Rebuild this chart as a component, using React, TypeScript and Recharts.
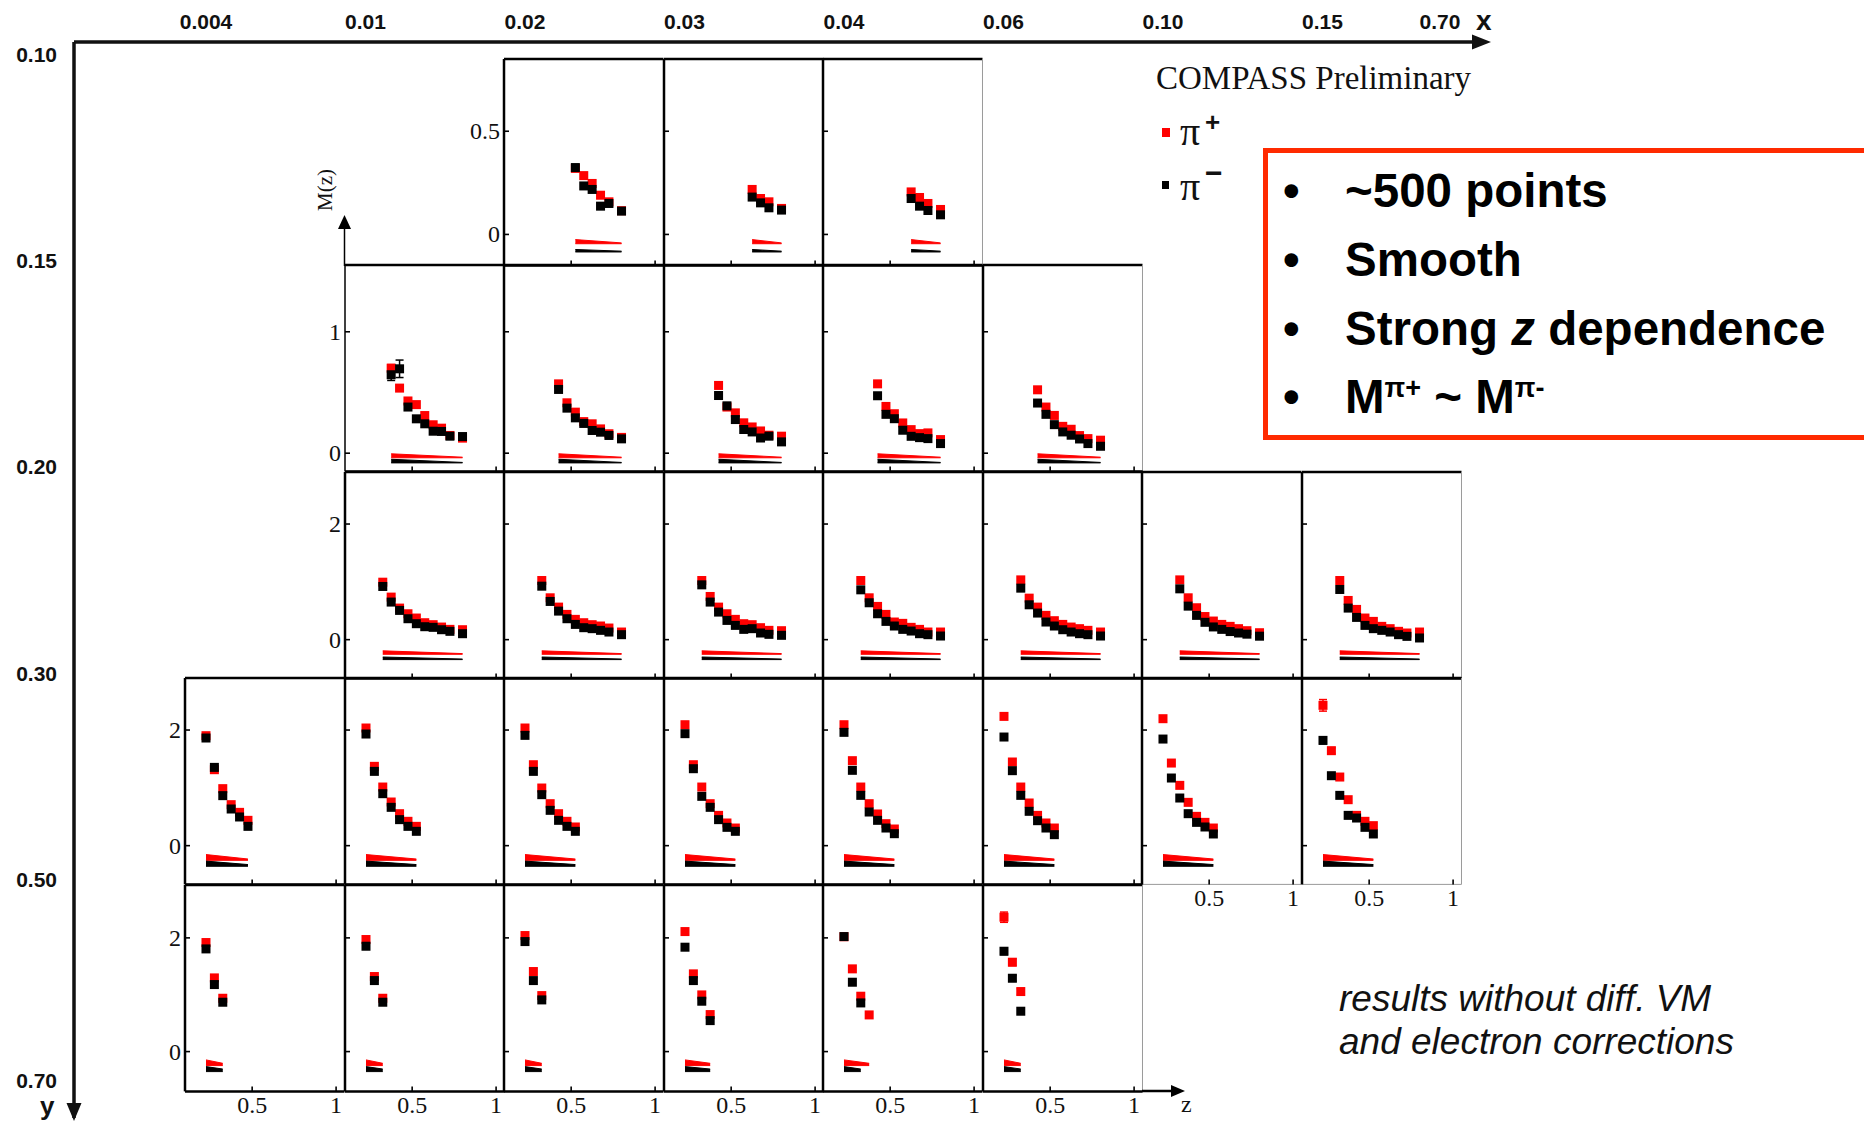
import React from 'react';
import { ComposedChart, Scatter, Area, XAxis, YAxis, ReferenceLine, ErrorBar } from 'recharts';

// mean z of each z bin
const Z_BINS = [0.225, 0.275, 0.325, 0.375, 0.425, 0.475, 0.525, 0.575, 0.625, 0.675, 0.725, 0.8];

// bin edges written along the two outer axes
const X_EDGES = ['0.004', '0.01', '0.02', '0.03', '0.04', '0.06', '0.10', '0.15', '0.70'];
const Y_EDGES = ['0.10', '0.15', '0.20', '0.30', '0.50', '0.70'];

// x bins present in each y row, and first z bin of every panel
const ROW_COLS = [
  [2, 3, 4],
  [1, 2, 3, 4, 5],
  [1, 2, 3, 4, 5, 6, 7],
  [0, 1, 2, 3, 4, 5, 6, 7],
  [0, 1, 2, 3, 4, 5],
];
const ROW_START = [
  [6, 8, 8],
  [3, 4, 4, 4, 4],
  [2, 2, 2, 2, 2, 2, 2],
  [0, 0, 0, 0, 0, 0, 0, 0],
  [0, 0, 0, 0, 0, 0],
];

const M_DOMAIN = [[-0.15, 0.85], [-0.15, 1.55], [-0.67, 2.9], [-0.67, 2.9], [-0.7, 2.93]];
const M_TICKS = [[0, 0.5], [0, 1], [0, 2], [0, 2], [0, 2]];
const Z_TICKS = [0.5, 1];

// pi+ multiplicities, one list per panel
const PIP_ROW0 = [
  [0.32, 0.285, 0.247, 0.19, 0.158, 0.115],
  [0.218, 0.174, 0.158, 0.126],
  [0.206, 0.179, 0.15, 0.121],
];
const PIP_ROW1 = [
  [0.7, 0.536, 0.43, 0.4, 0.31, 0.234, 0.206, 0.146, 0.124],
  [0.571, 0.415, 0.338, 0.26, 0.242, 0.2, 0.16, 0.13],
  [0.558, 0.38, 0.332, 0.25, 0.216, 0.183, 0.148, 0.14],
  [0.571, 0.385, 0.325, 0.249, 0.194, 0.161, 0.167, 0.112],
  [0.522, 0.38, 0.311, 0.221, 0.197, 0.145, 0.12, 0.107],
];
const PIP_ROW2 = [
  [0.994, 0.736, 0.546, 0.448, 0.374, 0.293, 0.259, 0.218, 0.178, 0.172],
  [1.023, 0.724, 0.563, 0.437, 0.351, 0.293, 0.259, 0.236, 0.201, 0.132],
  [1.023, 0.747, 0.563, 0.448, 0.351, 0.276, 0.259, 0.207, 0.161, 0.155],
  [1.023, 0.724, 0.575, 0.437, 0.305, 0.282, 0.213, 0.178, 0.132, 0.132],
  [1.034, 0.718, 0.563, 0.42, 0.328, 0.264, 0.218, 0.19, 0.161, 0.132],
  [1.034, 0.724, 0.552, 0.4, 0.322, 0.264, 0.23, 0.19, 0.155, 0.12],
  [1.023, 0.678, 0.523, 0.374, 0.316, 0.23, 0.19, 0.144, 0.115, 0.132],
];
const PIP_ROW3 = [
  [1.902, 1.314, 0.986, 0.709, 0.576, 0.438],
  [2.035, 1.372, 1.014, 0.755, 0.553, 0.421, 0.334],
  [2.035, 1.4, 0.997, 0.726, 0.553, 0.421, 0.323],
  [2.092, 1.4, 1.014, 0.726, 0.524, 0.392, 0.305],
  [2.092, 1.47, 1.014, 0.726, 0.548, 0.38, 0.288],
  [2.236, 1.447, 1.014, 0.738, 0.524, 0.392, 0.305],
  [2.196, 1.429, 1.043, 0.749, 0.507, 0.403, 0.305],
  [2.427, 1.643, 1.187, 0.795, 0.524, 0.421, 0.346],
];
const PIP_ROW4 = [
  [1.918, 1.296, 0.938],
  [1.971, 1.32, 0.938],
  [2.041, 1.408, 0.985],
  [2.111, 1.367, 0.997, 0.651],
  [2.02, 1.455, 0.974, 0.645],
  [2.364, 1.572, 1.056],
];

// pi- multiplicities
const PIM_ROW0 = [
  [0.324, 0.235, 0.218, 0.137, 0.15, 0.113],
  [0.181, 0.153, 0.129, 0.118],
  [0.174, 0.137, 0.116, 0.095],
];
const PIM_ROW1 = [
  [0.646, 0.695, 0.38, 0.283, 0.242, 0.181, 0.179, 0.14, 0.137],
  [0.525, 0.371, 0.291, 0.245, 0.187, 0.173, 0.146, 0.118],
  [0.475, 0.39, 0.277, 0.195, 0.175, 0.125, 0.14, 0.093],
  [0.473, 0.32, 0.284, 0.189, 0.139, 0.128, 0.12, 0.079],
  [0.413, 0.32, 0.235, 0.175, 0.148, 0.117, 0.079, 0.057],
];
const PIM_ROW2 = [
  [0.92, 0.65, 0.506, 0.362, 0.276, 0.224, 0.213, 0.172, 0.144, 0.103],
  [0.925, 0.661, 0.494, 0.362, 0.264, 0.207, 0.19, 0.161, 0.132, 0.086],
  [0.948, 0.65, 0.477, 0.333, 0.247, 0.178, 0.19, 0.115, 0.092, 0.075],
  [0.862, 0.638, 0.448, 0.316, 0.236, 0.178, 0.149, 0.103, 0.086, 0.063],
  [0.891, 0.603, 0.46, 0.305, 0.236, 0.172, 0.132, 0.103, 0.086, 0.063],
  [0.879, 0.58, 0.42, 0.3, 0.22, 0.178, 0.14, 0.115, 0.095, 0.06],
  [0.868, 0.546, 0.385, 0.247, 0.19, 0.161, 0.132, 0.086, 0.057, 0.029],
];
const PIM_ROW3 = [
  [1.862, 1.354, 0.865, 0.634, 0.496, 0.334],
  [1.931, 1.285, 0.899, 0.663, 0.45, 0.334, 0.248],
  [1.908, 1.285, 0.882, 0.611, 0.438, 0.334, 0.248],
  [1.937, 1.331, 0.853, 0.663, 0.45, 0.317, 0.248],
  [1.96, 1.303, 0.87, 0.582, 0.438, 0.305, 0.207],
  [1.879, 1.297, 0.87, 0.594, 0.432, 0.305, 0.19],
  [1.844, 1.17, 0.824, 0.553, 0.403, 0.323, 0.202],
  [1.821, 1.21, 0.87, 0.524, 0.478, 0.317, 0.202],
];
const PIM_ROW4 = [
  [1.806, 1.179, 0.868],
  [1.853, 1.249, 0.868],
  [1.935, 1.249, 0.909],
  [1.836, 1.249, 0.886, 0.545],
  [2.023, 1.22, 0.856],
  [1.765, 1.29, 0.71],
];

const PIP = [PIP_ROW0, PIP_ROW1, PIP_ROW2, PIP_ROW3, PIP_ROW4];
const PIM = [PIM_ROW0, PIM_ROW1, PIM_ROW2, PIM_ROW3, PIM_ROW4];

// statistical errors large enough to be seen (row-col)
const ERR_PIP: Record<string, number[]> = { '1-1': [0.03], '3-7': [0.1, 0.05, 0.04], '4-5': [0.09, 0.06, 0.05] };
const ERR_PIM: Record<string, number[]> = { '1-1': [0.047, 0.072], '3-7': [0.06], '4-4': [0.05], '4-5': [0.06, 0.05] };

// systematic bands per y row: base line, height at first and last z
const SYS_BASE_PIP = [-0.045, -0.038, -0.253, -0.254, -0.246];
const SYS_BASE_PIM = [-0.085, -0.08, -0.345, -0.357, -0.352];
const SYS_PIP_FIRST = [0.02, 0.033, 0.06, 0.1, 0.1];
const SYS_PIP_LAST = [0.004, 0.005, 0.012, 0.023, 0.04];
const SYS_PIM_FIRST = [0.012, 0.03, 0.045, 0.09, 0.088];
const SYS_PIM_LAST = [0.004, 0.004, 0.01, 0.03, 0.045];

const SERIF = '"Liberation Serif", "Times New Roman", serif';
const SANS = '"Liberation Sans", Arial, Helvetica, sans-serif';
const RED = '#ff0000';

// layout of the panel grid
const COL0 = 185;
const COL_W = 159.5;
const ROW0 = 59;
const ROW_H = 206.4;
const PAD_L = 44;
const PAD_R = 3;
const PAD_T = 3;
const PAD_B = 34;

function YTick(props: any) {
  const { x, y, payload, show } = props;
  return (
    <g>
      <line x1={x} y1={y} x2={x + 5} y2={y} stroke="#000" strokeWidth={1.6} />
      {show && (
        <text x={x - 4} y={y} textAnchor="end" dominantBaseline="central" fontFamily={SERIF} fontSize={24} fill="#111">
          {String(payload.value)}
        </text>
      )}
    </g>
  );
}

function XTick(props: any) {
  const { x, y, payload, show } = props;
  return (
    <g>
      <line x1={x} y1={y} x2={x} y2={y - 5} stroke="#000" strokeWidth={1.6} />
      {show && (
        <text x={x} y={y + 22} textAnchor="middle" fontFamily={SERIF} fontSize={24} fill="#111">
          {String(payload.value)}
        </text>
      )}
    </g>
  );
}

const square = (color: string) => (p: any) => (
  <rect x={p.cx - 4.5} y={p.cy - 4.5} width={9} height={9} fill={color} />
);

function band(pts: { z: number }[], base: number, first: number, last: number) {
  return [
    { z: pts[0].z, m: [base, base + first] },
    { z: pts[pts.length - 1].z, m: [base, base + last] },
  ];
}

function Panel({ r, k }: { r: number; k: number }) {
  const c = ROW_COLS[r][k];
  const s = ROW_START[r][k];
  const id = `${r}-${c}`;
  const pip = PIP[r][k].map((m, i) => ({ z: Z_BINS[s + i], m, e: ERR_PIP[id]?.[i] ?? 0 }));
  const pim = PIM[r][k].map((m, i) => ({ z: Z_BINS[s + i], m, e: ERR_PIM[id]?.[i] ?? 0 }));
  const bandP = band(pip, SYS_BASE_PIP[r], SYS_PIP_FIRST[r], SYS_PIP_LAST[r]);
  const bandM = band(pim, SYS_BASE_PIM[r], SYS_PIM_FIRST[r], SYS_PIM_LAST[r]);
  const [lo, hi] = M_DOMAIN[r];
  const zLabels = r === 4 || (r === 3 && c >= 6);
  const open = r === 3 && c >= 6;
  const thinLeft = r === 1 && c === 1;

  return (
    <div style={{ position: 'absolute', left: COL0 + c * COL_W - PAD_L, top: ROW0 + r * ROW_H - PAD_T }}>
      <ComposedChart
        width={PAD_L + COL_W + PAD_R}
        height={PAD_T + ROW_H + PAD_B}
        margin={{ top: PAD_T, right: PAD_R, bottom: 0, left: 0 }}
      >
        <XAxis
          type="number"
          dataKey="z"
          domain={[0.1, 1.05]}
          allowDataOverflow
          ticks={Z_TICKS}
          interval={0}
          height={PAD_B}
          tickSize={0}
          tickMargin={0}
          tickLine={false}
          axisLine={{ stroke: open ? '#9a9a9a' : '#000', strokeWidth: open ? 1 : 2.5 }}
          tick={(p: any) => <XTick {...p} show={zLabels} />}
        />
        <YAxis
          type="number"
          dataKey="m"
          domain={[lo, hi]}
          allowDataOverflow
          ticks={M_TICKS[r]}
          interval={0}
          width={PAD_L}
          tickSize={0}
          tickMargin={0}
          tickLine={false}
          axisLine={{ stroke: '#000', strokeWidth: thinLeft ? 1.5 : 2.5 }}
          tick={(p: any) => <YTick {...p} show={k === 0} />}
        />
        <ReferenceLine y={hi} stroke="#000" strokeWidth={2.5} ifOverflow="visible" />
        <ReferenceLine x={1.05} stroke="#9a9a9a" strokeWidth={1} ifOverflow="visible" />
        <Area data={bandP} dataKey="m" type="linear" stroke={RED} strokeWidth={1} fill={RED} fillOpacity={1} isAnimationActive={false} />
        <Area data={bandM} dataKey="m" type="linear" stroke="#000" strokeWidth={1} fill="#000" fillOpacity={1} isAnimationActive={false} />
        <Scatter data={pip} dataKey="m" fill={RED} shape={square(RED)} isAnimationActive={false}>
          <ErrorBar dataKey="e" direction="y" width={4} stroke={RED} strokeWidth={1.5} />
        </Scatter>
        <Scatter data={pim} dataKey="m" fill="#000" shape={square('#000')} isAnimationActive={false}>
          <ErrorBar dataKey="e" direction="y" width={4} stroke="#000" strokeWidth={1.5} />
        </Scatter>
      </ComposedChart>
    </div>
  );
}

function EdgeTickX(props: any) {
  const { x, payload } = props;
  const i = payload.value;
  const dx = i === X_EDGES.length - 1 ? -21 : 21;
  return (
    <text x={x + dx} y={29} textAnchor="middle" fontFamily={SANS} fontWeight="bold" fontSize={21} fill="#111">
      {X_EDGES[i]}
    </text>
  );
}

function EdgeTickY(props: any) {
  const { x, y, payload } = props;
  const last = payload.value === Y_EDGES.length - 1;
  return (
    <text x={x - 17} y={y - (last ? 10 : 5)} textAnchor="end" dominantBaseline="central" fontFamily={SANS} fontWeight="bold" fontSize={21} fill="#111">
      {Y_EDGES[payload.value]}
    </text>
  );
}

// one invisible anchor per x-bin edge, so the outer axes have data
const edgeData = X_EDGES.map((_, i) => ({ u: i, v: 0 }));

// outer x (top) and y (left) bin axes
function Frame() {
  return (
    <div style={{ position: 'absolute', left: 0, top: 0 }}>
      <ComposedChart width={1864} height={1121} margin={{ top: 0, right: 378, bottom: 3, left: 0 }}>
        <XAxis
          orientation="top"
          type="number"
          dataKey="u"
          domain={[-0.696, 8.157]}
          allowDataOverflow
          ticks={X_EDGES.map((_, i) => i)}
          interval={0}
          height={42}
          tickSize={0}
          tickMargin={0}
          tickLine={false}
          axisLine={{ stroke: '#111', strokeWidth: 3.5 }}
          tick={(p: any) => <EdgeTickX {...p} />}
        />
        <YAxis
          reversed
          type="number"
          dataKey="v"
          domain={[-0.0824, 5.131]}
          allowDataOverflow
          ticks={Y_EDGES.map((_, i) => i)}
          interval={0}
          width={74}
          tickSize={0}
          tickMargin={0}
          tickLine={false}
          axisLine={{ stroke: '#111', strokeWidth: 3.5 }}
          tick={(p: any) => <EdgeTickY {...p} />}
        />
        <Scatter data={edgeData} dataKey="v" shape={() => <g />} isAnimationActive={false} />
      </ComposedChart>
    </div>
  );
}

function Decor() {
  return (
    <svg width={1864} height={1121} style={{ position: 'absolute', left: 0, top: 0, pointerEvents: 'none' }}>
      <polygon points="1491,42 1472,34.5 1472,49.5" fill="#111" />
      <text x={1476} y={30} fontFamily={SANS} fontWeight="bold" fontSize={28} fill="#111">x</text>
      <polygon points="74,1121 66.5,1103 81.5,1103" fill="#111" />
      <text x={40} y={1115} fontFamily={SANS} fontWeight="bold" fontSize={26} fill="#111">y</text>

      <line x1={344.5} y1={266} x2={344.5} y2={224} stroke="#000" strokeWidth={1.5} />
      <polygon points="344.5,215 338,229 351,229" fill="#000" />
      <text transform="translate(332,190) rotate(-90)" textAnchor="middle" fontFamily={SERIF} fontSize={21} fill="#111">M(z)</text>

      <line x1={1142} y1={1091} x2={1176} y2={1091} stroke="#000" strokeWidth={2.5} />
      <polygon points="1185,1091 1171,1085 1171,1097" fill="#000" />
      <text x={1181} y={1112} fontFamily={SERIF} fontSize={24} fill="#111">z</text>

      <text x={1156} y={89} fontFamily={SERIF} fontSize={33} fill="#111">COMPASS Preliminary</text>
      <rect x={1162} y={128} width={8} height={9} fill={RED} />
      <text x={1180} y={145} fontFamily={SERIF} fontSize={40} fill="#111">π</text>
      <text x={1205} y={131} fontFamily={SANS} fontWeight="bold" fontSize={26} fill="#111">+</text>
      <rect x={1162} y={181} width={7} height={8} fill="#000" />
      <text x={1180} y={200} fontFamily={SERIF} fontSize={40} fill="#111">π</text>
      <text x={1205} y={183} fontFamily={SANS} fontWeight="bold" fontSize={30} fill="#111">−</text>

      <rect x={1265.5} y={150.5} width={700} height={287} fill="none" stroke="#ff2a00" strokeWidth={5} />
      <g fontFamily={SANS} fontWeight="bold" fontSize={47.5} fill="#000">
        <text x={1283} y={207}>•</text>
        <text x={1283} y={276}>•</text>
        <text x={1283} y={345}>•</text>
        <text x={1283} y={413}>•</text>
        <text x={1345} y={207}>~500 points</text>
        <text x={1345} y={276}>Smooth</text>
        <text x={1345} y={345}>
          Strong <tspan fontStyle="italic">z</tspan> dependence
        </text>
        <text x={1345} y={413}>
          M<tspan fontSize={27} dy={-16}>π+</tspan>
          <tspan dy={16}> ~ M</tspan>
          <tspan fontSize={27} dy={-16}>π-</tspan>
        </text>
      </g>

      <g fontFamily={SANS} fontStyle="italic" fontSize={37} fill="#111">
        <text x={1339} y={1011}>results without diff. VM</text>
        <text x={1339} y={1054}>and electron corrections</text>
      </g>
    </svg>
  );
}

export default function App() {
  return (
    <div style={{ position: 'absolute', left: 0, top: 0, width: 1864, height: 1121, background: '#fff', overflow: 'hidden' }}>
      <Frame />
      {ROW_COLS.map((cols, r) => cols.map((c, k) => <Panel key={`${r}-${c}`} r={r} k={k} />))}
      <Decor />
    </div>
  );
}
